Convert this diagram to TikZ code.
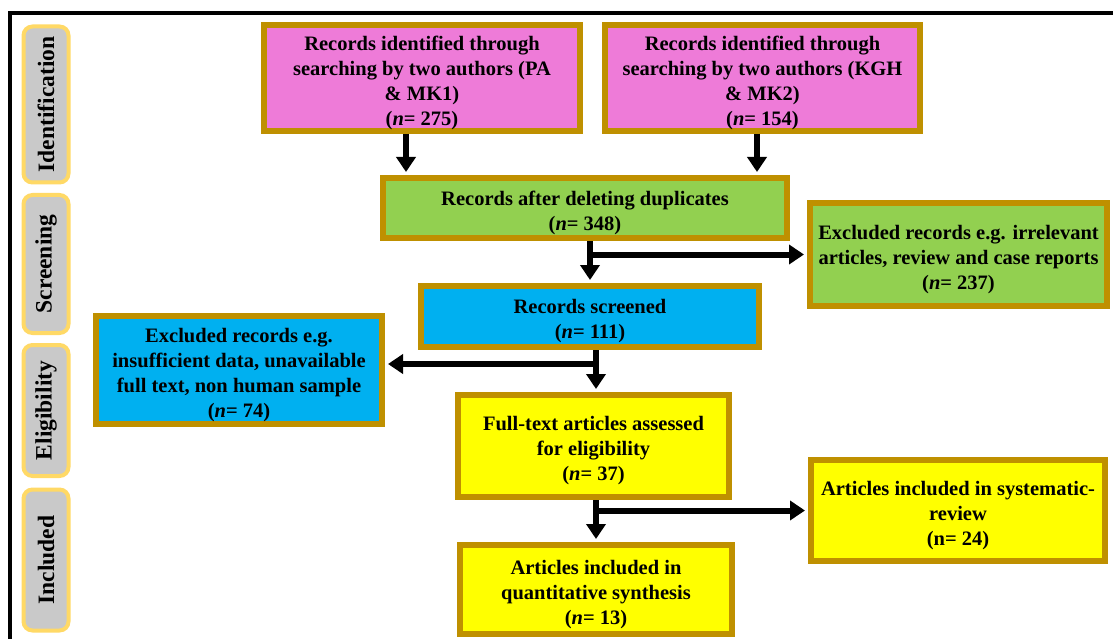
\documentclass[tikz,border=0pt]{standalone}
\usepackage{fontspec}
\setmainfont{Liberation Serif}
\usetikzlibrary{arrows.meta}
\definecolor{pinkf}{HTML}{EE7BD8}
\definecolor{greenf}{HTML}{92D050}
\definecolor{bluef}{HTML}{00B0F0}
\definecolor{yellowf}{HTML}{FFFF00}
\definecolor{goldb}{HTML}{BF9000}
\definecolor{sidef}{HTML}{C9C9C9}
\definecolor{sideb}{HTML}{FFD966}
\newcommand{\tgap}{\rule{0pt}{24pt}}
\tikzset{
  box/.style={draw=goldb, line width=6pt, align=center, inner sep=1pt,
    font=\bfseries\fontsize{20.5}{25}\selectfont},
  side/.style={draw=sideb, fill=sidef, line width=4pt, rounded corners=9pt,
    minimum height=45pt, inner sep=1pt, font=\bfseries\fontsize{23.5}{26}\selectfont},
  arr/.style={line width=6pt, -{Triangle[length=15pt,width=19pt]}},
}
\begin{document}
\begin{tikzpicture}[x=1pt,y=-1pt]
\useasboundingbox (0,0) rectangle (1113,639);
\fill[white] (0,0) rectangle (1113,639);
\draw[line width=4pt] (9.5,645) -- (9.5,13.5) -- (1120,13.5);
% side labels
\node[side, minimum width=156pt, rotate=90] (sid) at (46,104.5) {Identification};
\node[side, minimum width=138pt, rotate=90] (ssc) at (46,264) {Screening};
\node[side, minimum width=131pt, rotate=90] (sel) at (46,410.5) {Eligibility};
\node[side, minimum width=141pt, rotate=90] (sin) at (46,560) {Included};
% boxes
\node[box, fill=pinkf, minimum width=316pt, minimum height=102pt] (p1) at (422,78)
  {\tgap Records identified through\\searching by two authors (PA\\\& MK1)\\(\textit{n}= 275)};
\node[box, fill=pinkf, minimum width=315pt, minimum height=102pt] (p2) at (762.5,78)
  {\tgap Records identified through\\searching by two authors (KGH\\\& MK2)\\(\textit{n}= 154)};
\node[box, fill=greenf, minimum width=404pt, minimum height=60pt] (g1) at (585,208)
  {\tgap Records after deleting duplicates\\(\textit{n}= 348)};
\node[box, fill=greenf, minimum width=297pt, minimum height=103pt] (g2) at (958.5,254.5)
  {\tgap Excluded records e.g. irrelevant\\articles, review and case reports\\(\textit{n}= 237)};
\node[box, fill=bluef, minimum width=338pt, minimum height=61pt] (b1) at (590,316.5)
  {\tgap Records screened\\(\textit{n}= 111)};
\node[box, fill=bluef, minimum width=286pt, minimum height=108pt] (b2) at (239,370)
  {\tgap Excluded records e.g.\\insufficient data, unavailable\\full text, non human sample\\(\textit{n}= 74)};
\node[box, fill=yellowf, minimum width=271pt, minimum height=102pt] (y1) at (593.5,446)
  {\tgap Full-text articles assessed\\for eligibility\\(\textit{n}= 37)};
\node[box, fill=yellowf, minimum width=294pt, minimum height=101pt] (y2) at (958,510.5)
  {\tgap Articles included in systematic-\\review\\(n= 24)};
\node[box, fill=yellowf, minimum width=272pt, minimum height=89pt] (y3) at (596,589.5)
  {\tgap Articles included in\\quantitative synthesis\\(\textit{n}= 13)};
% connectors
\coordinate (a1) at ([xshift=-16pt]p1.south);
\coordinate (a2) at ([xshift=-5.5pt]p2.south);
\draw[arr] (a1) -- ([yshift=3pt]a1 |- g1.north);
\draw[arr] (a2) -- ([yshift=3pt]a2 |- g1.north);
\draw[arr] (g1.south -| b1.north) -- ([yshift=3pt]b1.north);
\draw[arr] (b1.north |- g2.west) -- ([xshift=-3pt]g2.west);
\coordinate (c1) at ([xshift=6pt]b1.south);
\draw[arr] (c1) -- ([yshift=3pt]c1 |- y1.north);
\draw[arr] ([yshift=6pt]c1 |- b2.east) -- ([yshift=6pt,xshift=3pt]b2.east);
\draw[arr] (y1.south -| y3.north) -- ([yshift=3pt]y3.north);
\draw[arr] (y3.north |- y2.west) -- ([xshift=-3pt]y2.west);
\end{tikzpicture}
\end{document}
